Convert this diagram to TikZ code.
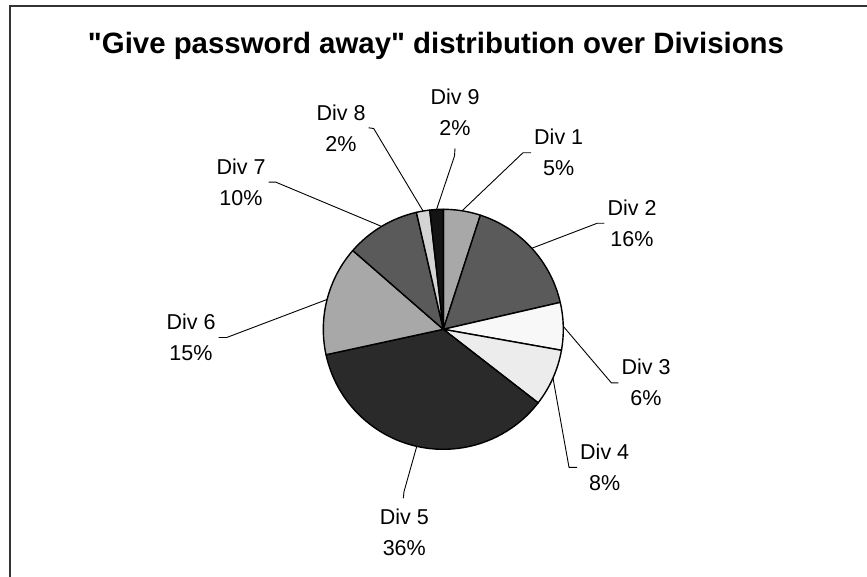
\documentclass[tikz,border=0pt]{standalone}
\usepackage{fontspec}
\setmainfont{Liberation Sans}
% plain family without the TeX mapping, so straight quotes stay straight
\newfontfamily\plainsans{Liberation Sans}
\usetikzlibrary{calc}
\definecolor{sDivA}{HTML}{A8A8A8}
\definecolor{sDivB}{HTML}{5A5A5A}
\definecolor{sDivC}{HTML}{F8F8F8}
\definecolor{sDivD}{HTML}{ECECEC}
\definecolor{sDivE}{HTML}{2A2A2A}
\definecolor{sDivF}{HTML}{A8A8A8}
\definecolor{sDivG}{HTML}{5A5A5A}
\definecolor{sDivH}{HTML}{D4D4D4}
\definecolor{sDivI}{HTML}{141414}
\definecolor{frameline}{HTML}{333333}
\begin{document}
\begin{tikzpicture}[x=1pt,y=-1pt,
  slice/.style={draw=black,line width=1.4pt,line join=round},
  leader/.style={draw=black,line width=0.9pt},
  lbl/.style={align=center,inner sep=3pt,font=\fontsize{21.5}{31}\selectfont},
  ttl/.style={inner sep=0pt,font=\plainsans\fontsize{29.4}{34}\selectfont\bfseries}]
\useasboundingbox (0,0) rectangle (867,576);
\fill[white] (0,0) rectangle (867,576);
% chart frame (left and top edges)
\draw[frameline,line width=2.2pt] (10,580) -- (10,6) -- (870,6);

% title
\node[ttl] (title) at (436,46) {"Give password away" distribution over Divisions};

% pie: slices run clockwise from twelve o'clock
\coordinate (c) at (443.3,329.3);
\def\R{120}
\foreach \a/\b/\col in {-90/-72/sDivA, -72/-12.96/sDivB, -12.96/10.08/sDivC,
    10.08/37.8/sDivD, 37.8/167.76/sDivE, 167.76/221.04/sDivF,
    221.04/257.04/sDivG, 257.04/263.52/sDivH, 263.52/270/sDivI}
  \filldraw[slice,fill=\col] (c) -- ($(c)+(\a:\R)$) arc[start angle=\a,end angle=\b,radius=\R] -- cycle;

% rim points at the middle of each slice
\coordinate (m1) at ($(c)+(-81:\R)$);
\coordinate (m2) at ($(c)+(-42.48:\R)$);
\coordinate (m3) at ($(c)+(-1.44:\R)$);
\coordinate (m4) at ($(c)+(23.94:\R)$);
\coordinate (m5) at ($(c)+(102.78:\R)$);
\coordinate (m6) at ($(c)+(194.4:\R)$);
\coordinate (m7) at ($(c)+(239.04:\R)$);
\coordinate (m8) at ($(c)+(260.28:\R)$);
\coordinate (m9) at ($(c)+(266.76:\R)$);

% data labels
\node[lbl] (l1) at (558.7,152.7) {Div 1\\5\%};
\node[lbl] (l2) at (632,223.2) {Div 2\\16\%};
\node[lbl] (l3) at (646,382.8) {Div 3\\6\%};
\node[lbl] (l4) at (604.7,467.3) {Div 4\\8\%};
\node[lbl] (l5) at (404.3,532.8) {Div 5\\36\%};
\node[lbl] (l6) at (191,337.5) {Div 6\\15\%};
\node[lbl] (l7) at (241,182.1) {Div 7\\10\%};
\node[lbl] (l8) at (341,127.8) {Div 8\\2\%};
\node[lbl] (l9) at (455,111.8) {Div 9\\2\%};

% leader lines
\draw[leader] (l1.west) -- ++(-8,0) -- (m1);
\draw[leader] (l2.west) -- ++(-7,0) -- (m2);
\draw[leader] (l3.west) -- ++(-7,0) -- (m3);
\draw[leader] (l4.west) -- ++(-8,0) -- (m4);
\draw[leader] ($(l5.north)+(-1,-8)$) -- ++(0.7,-6.6) -- (m5);
\draw[leader] (l6.east) -- ++(8,0) -- (m6);
\draw[leader] (l7.east) -- ++(7,0) -- (m7);
\draw[leader] (l8.east) -- ++(5,0.7) -- (m8);
\draw[leader] ($(l9.south)+(0,10)$) -- ++(-0.5,7.7) -- (m9);
\end{tikzpicture}
\end{document}
